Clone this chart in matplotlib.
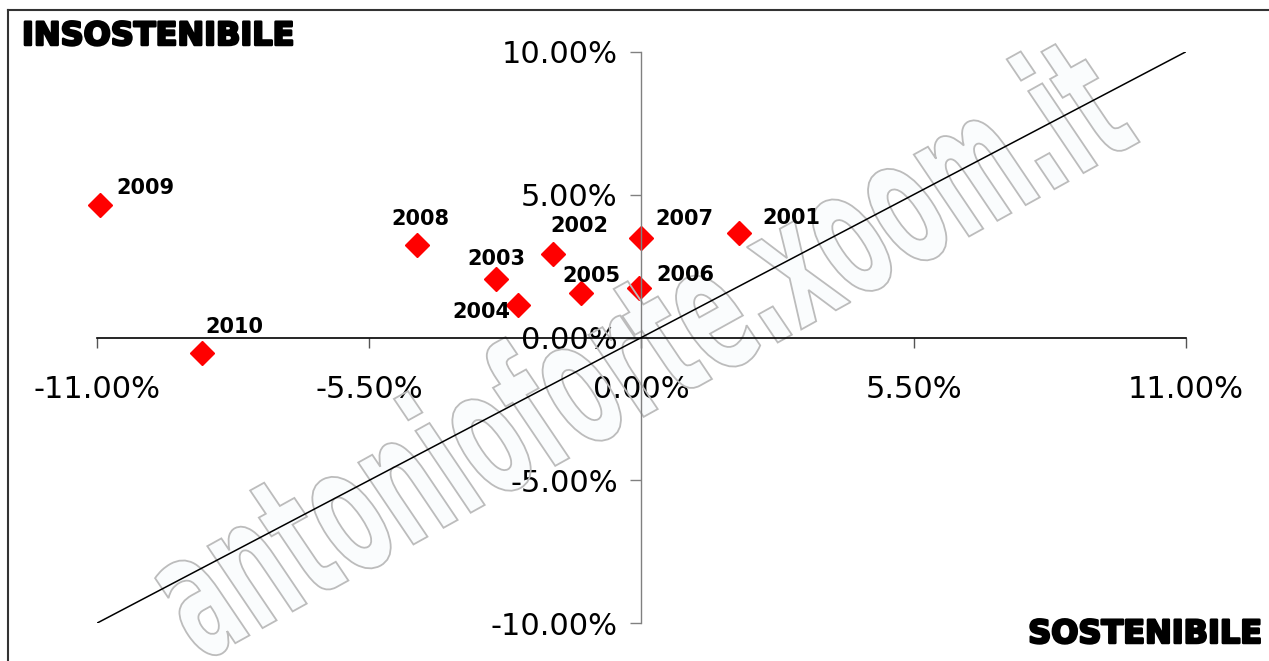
import matplotlib
matplotlib.use("Agg")
import matplotlib.pyplot as plt
import matplotlib.patheffects as pe
from matplotlib.ticker import FuncFormatter
from matplotlib.textpath import TextPath
from matplotlib.font_manager import FontProperties
from matplotlib.patches import PathPatch
from matplotlib.transforms import Affine2D, IdentityTransform
from matplotlib.lines import Line2D

# values in percent
years = ["2001", "2002", "2003", "2004", "2005", "2006", "2007", "2008", "2009", "2010"]
x_vals = [1.98, -1.79, -2.94, -2.49, -1.21, -0.04, -0.01, -4.53, -10.94, -8.87]
y_vals = [3.65, 2.92, 2.04, 1.14, 1.55, 1.74, 3.49, 3.24, 4.64, -0.53]

x_ticks = [-11, -5.5, 0, 5.5, 11]
y_ticks = [-10, -5, 0, 5, 10]

# reference line
line_x = [-11, 11]
line_y = [-10, 10]

# label placement: (dx, dy) in pixels, alignment
label_pos = {
    "2001": (23, -15, "left"),
    "2002": (27, -28, "center"),
    "2003": (1, -20, "center"),
    "2004": (-8, 7, "right"),
    "2005": (10, -17, "center"),
    "2006": (17, -13, "left"),
    "2007": (15, -19, "left"),
    "2008": (3, -26, "center"),
    "2009": (17, -17, "left"),
    "2010": (3, -26, "left"),
}

W, H = 1269, 661
fig = plt.figure(figsize=(W / 100, H / 100), dpi=100)
fig.patch.set_facecolor("white")

ax = fig.add_axes([96.7 / W, 37.7 / H, 1089.3 / W, 571.6 / H])
ax.patch.set_visible(False)
ax.set_xlim(-11, 11)
ax.set_ylim(-10, 10)

for s in ("top", "right"):
    ax.spines[s].set_visible(False)
ax.spines["left"].set_position(("data", 0))
ax.spines["bottom"].set_position(("data", 0))
ax.spines["left"].set_color("#808080")
ax.spines["left"].set_linewidth(1.0)
ax.spines["bottom"].set_color("black")
ax.spines["bottom"].set_linewidth(1.2)

fmt = FuncFormatter(lambda v, p: f"{abs(v):.2f}%" if abs(v) < 1e-9 else f"{v:.2f}%")
ax.set_xticks(x_ticks)
ax.set_yticks(y_ticks)
ax.xaxis.set_major_formatter(fmt)
ax.yaxis.set_major_formatter(fmt)
ax.tick_params(axis="x", direction="out", length=7, width=1.0, color="#555555",
               pad=20, labelsize=22)
ax.tick_params(axis="y", direction="out", length=8, width=1.0, color="#808080",
               pad=9, labelsize=22)
for lab in ax.get_xticklabels() + ax.get_yticklabels():
    lab.set_family("DejaVu Sans")

ax.plot(line_x, line_y, color="black", lw=1.1, zorder=3)
ax.plot(x_vals, y_vals, linestyle="none", marker="D", ms=12.5,
        color="#ff0000", mec="#ff0000", zorder=2, clip_on=False)

for yr, xv, yv in zip(years, x_vals, y_vals):
    dx, dy, ha = label_pos[yr]
    ax.annotate(yr, (xv, yv), xytext=(dx * 0.72, -dy * 0.72),
                textcoords="offset points", ha=ha, va="center",
                fontsize=15, fontweight="bold", color="black", zorder=4)

# watermark, built as a stretched and rotated outline
fp = FontProperties(family="DejaVu Sans", weight="bold")
tp = TextPath((0, 0), "antonioforte.xoom.it", size=1, prop=fp)
ext = tp.get_extents()
sx = 1070 / (ext.x1 - ext.x0)
sy = 180
tr = (Affine2D().translate(-ext.x0, 0).scale(sx, sy)
      .skew_deg(-5, 0).rotate_deg(29).translate(205, H - 660))
wm_path = tr.transform_path(tp)
fig.add_artist(PathPatch(wm_path, facecolor="#fafcfd", edgecolor="none",
                         transform=IdentityTransform(), zorder=-1))
ax.add_artist(PathPatch(wm_path, facecolor="none", edgecolor="#bcbcbc", lw=1.3,
                        transform=IdentityTransform(), clip_on=False, zorder=2.5))

# corner captions
heavy = [pe.withStroke(linewidth=1.8, foreground="black")]
fig.text(22 / W, 1 - 45 / H, "INSOSTENIBILE", fontsize=23, fontweight="bold",
         ha="left", va="baseline", path_effects=heavy)
fig.text(1262 / W, 1 - 643 / H, "SOSTENIBILE", fontsize=23, fontweight="bold",
         ha="right", va="baseline", path_effects=heavy)

# outer frame (top and left edges)
fig.add_artist(Line2D([8 / W, 1], [1 - 10 / H, 1 - 10 / H], color="#333333", lw=1.5))
fig.add_artist(Line2D([8 / W, 8 / W], [0, 1 - 10 / H], color="#333333", lw=1.5))

fig.savefig("out.png", dpi=100, facecolor="white")
